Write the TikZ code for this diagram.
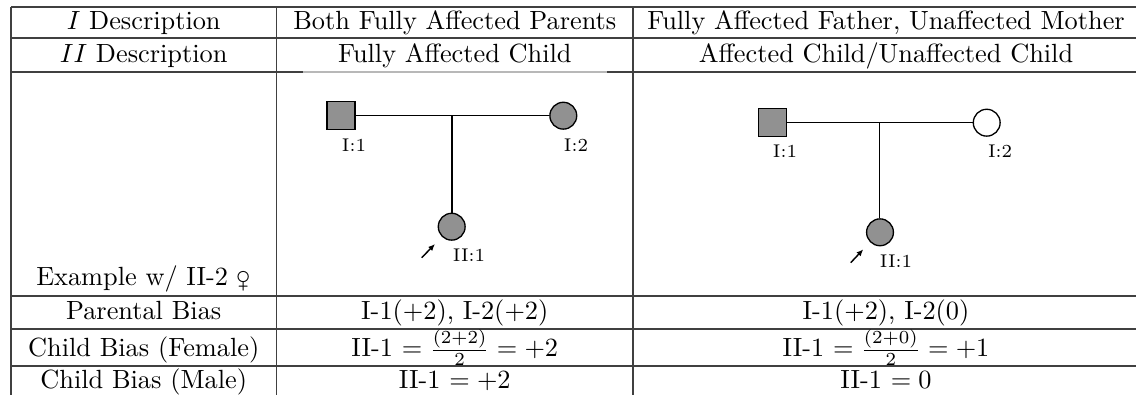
\documentclass[tikz,border=0pt]{standalone}
\usepackage{wasysym}
\usetikzlibrary{calc}
\usetikzlibrary{arrows.meta}
\tikzset{>={Latex[length=2.6pt,width=2.2pt]}}
\colorlet{rulegray}{black!75}
\colorlet{affected}{black!43}
\tikzstyle{rule}=[rulegray,line width=0.45pt]
\tikzstyle{faintrule}=[black!28,line width=0.45pt]
\tikzstyle{cell}=[anchor=base,inner sep=0pt]
\tikzstyle{male}=[draw,line width=0.5pt,minimum size=10.6pt,inner sep=0pt]
\tikzstyle{female}=[draw,circle,line width=0.5pt,minimum size=10.2pt,inner sep=0pt]
\tikzstyle{tag}=[font=\scriptsize,inner sep=0pt]
\tikzstyle{kin}=[line width=0.55pt]
\tikzstyle{proband}=[->,line width=0.55pt]

\begin{document}
\begin{tikzpicture}[x=0.38pt,y=-0.38pt]

  \clip (0,0) rectangle (1136,395);

  % column centres
  \def\ca{143.7}
  \def\cb{454.8}
  \def\cc{886}

  % table rules
  \draw[rule]
    (11,7) -- (1136,7);
  \draw[rule]
    (11,38) -- (1136,38);
  \draw[rule]
    (11,72) -- (303,72);
  \draw[faintrule]
    (303,72) -- (607,72);
  \draw[rule]
    (607,72) -- (1136,72);
  \draw[rule]
    (11,296) -- (1136,296);
  \draw[rule]
    (11,329) -- (1136,329);
  \draw[rule]
    (11,366) -- (1136,366);
  \draw[rule]
    (11,7) -- (11,395);
  \draw[rule]
    (276.5,7) -- (276.5,395);
  \draw[rule]
    (633,7) -- (633,395);

  % header rows
  \node[cell] (d1) at (\ca,29.3) {$I$ Description};
  \node[cell] (h1) at (\cb,29.3) {Both Fully Affected Parents};
  \node[cell] (h2) at (\cc,29.3) {Fully Affected Father, Unaffected Mother};
  \node[cell] (d2) at (\ca,62.7) {$II$ Description};
  \node[cell] (s1) at (\cb,62.7) {Fully Affected Child};
  \node[cell] (s2) at (\cc,62.7) {Affected Child/Unaffected Child};

  % bias rows
  \node[cell] (ex) at (\ca,285.7) {Example w/ II-2 \female};
  \node[cell] (pb) at (\ca,319.5) {Parental Bias};
  \node[cell] (pb1) at (\cb,319.5) {I-1($+2$), I-2($+2$)};
  \node[cell] (pb2) at (\cc,319.5) {I-1($+2$), I-2($0$)};
  \node[cell] (cf) at (\ca,356.7) {Child Bias (Female)};
  \node[cell] (cf1) at (\cb,356.7) {II-1 $=\frac{(2+2)}{2}=+2$};
  \node[cell] (cf2) at (\cc,356.7) {II-1 $=\frac{(2+0)}{2}=+1$};
  \node[cell] (cm) at (\ca,388.3) {Child Bias (Male)};
  \node[cell] (cm1) at (\cb,388.3) {II-1 $=+2$};
  \node[cell] (cm2) at (\cc,388.3) {II-1 $=0$};

  % pedigree, both parents affected
  \node[male,fill=affected] (f1) at (341,115.7) {};
  \node[female,fill=affected] (m1) at (563.3,115.7) {};
  \node[female,fill=affected] (c1) at (451.7,226.7) {};
  \coordinate (j1) at ($(f1)!0.5!(m1)$);
  \draw[kin]
    (f1) -- (m1);
  \draw[kin]
    (j1) -- (j1 |- c1.north);
  \node[tag] (t11) at ($(f1)+(13,29.3)$) {I:1};
  \node[tag] (t12) at ($(m1)+(12.7,29.3)$) {I:2};
  \node[tag] (t13) at ($(c1)+(17.3,29)$) {II:1};
  \coordinate (a1) at ($(c1)+(-30,31)$);
  \coordinate (b1) at ($(c1)+(-16.7,17.3)$);
  \draw[proband]
    (a1) -- (b1);

  % pedigree, mother unaffected
  \node[male,fill=affected] (f2) at (772.7,122.7) {};
  \node[female,fill=white] (m2) at (986.7,122.7) {};
  \node[female,fill=affected] (c2) at (880,232.3) {};
  \coordinate (j2) at ($(f2)!0.5!(m2)$);
  \draw[kin]
    (f2) -- (m2);
  \draw[kin]
    (j2) -- (j2 |- c2.north);
  \node[tag] (t21) at ($(f2)+(12.3,28.3)$) {I:1};
  \node[tag] (t22) at ($(m2)+(13.3,28.3)$) {I:2};
  \node[tag] (t23) at ($(c2)+(16,28.7)$) {II:1};
  \coordinate (a2) at ($(c2)+(-29.3,30.4)$);
  \coordinate (b2) at ($(c2)+(-16.7,17)$);
  \draw[proband]
    (a2) -- (b2);

\end{tikzpicture}
\end{document}
